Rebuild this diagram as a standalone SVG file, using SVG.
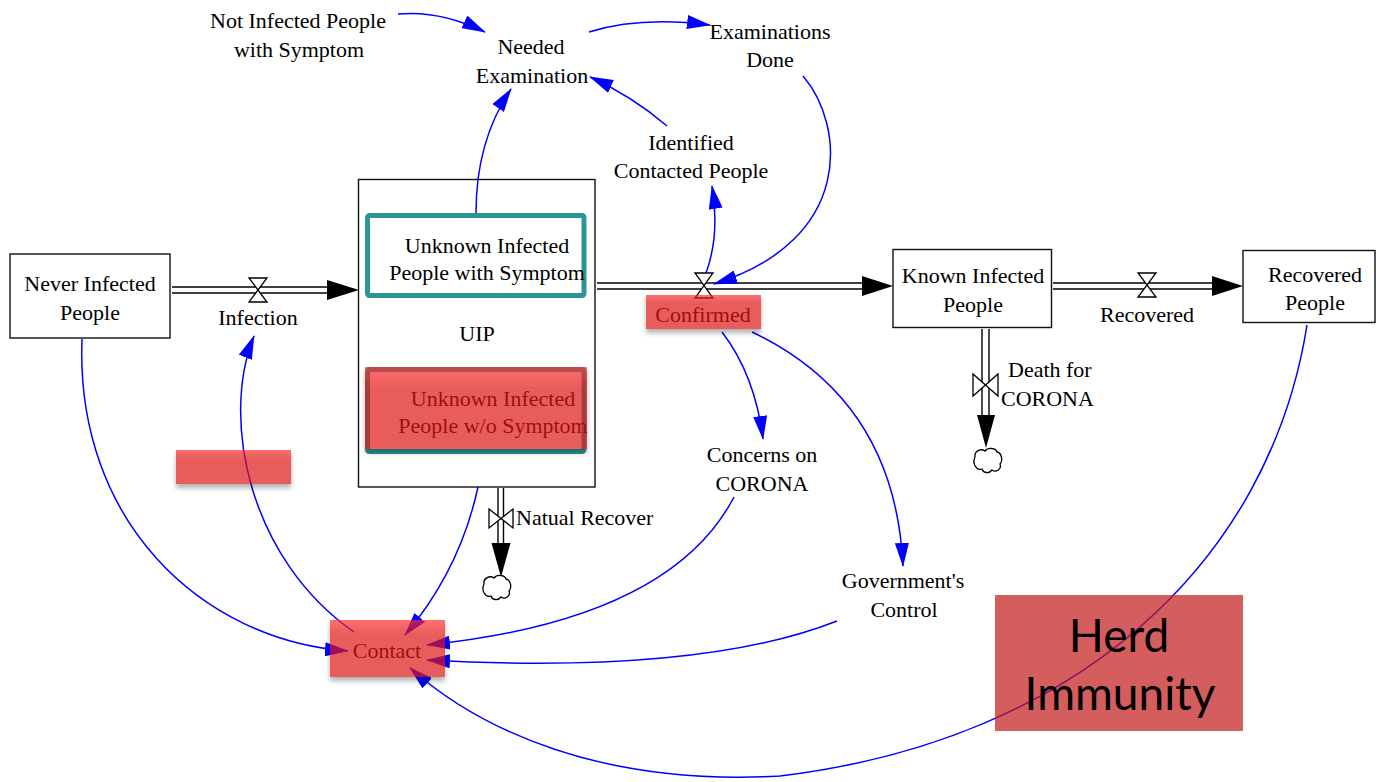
<svg xmlns="http://www.w3.org/2000/svg" width="1376" height="782" viewBox="0 0 1376 782">
<defs>
<style>
.t{font-family:'Liberation Serif','DejaVu Serif',serif;font-size:22px;fill:#000;text-anchor:middle}
.st{fill:#fff;stroke:#111;stroke-width:1.4}
.pipe{stroke:#000;stroke-width:1.4;fill:none}
.valve{fill:#fff;stroke:#000;stroke-width:1.3}
.cn{fill:none;stroke:#0000ff;stroke-width:1.5;marker-end:url(#ab)}
.cloud{fill:#fff;stroke:#000;stroke-width:1.3}
.teal{fill:none;stroke:#2b9692;stroke-width:5}
.ov{fill:url(#rg);filter:url(#sh)}
</style>
<marker id="ab" markerUnits="userSpaceOnUse" markerWidth="24" markerHeight="14" viewBox="0 0 24 14" refX="23" refY="7" orient="auto">
<path d="M0,0 L24,7 L0,14 Z" fill="#0000ff"/>
</marker>
<linearGradient id="rg" x1="0" y1="0" x2="0" y2="1">
<stop offset="0" stop-color="#ff2c2c" stop-opacity="0.68"/>
<stop offset="0.25" stop-color="#de1616" stop-opacity="0.7"/>
<stop offset="1" stop-color="#de1616" stop-opacity="0.7"/>
</linearGradient>
<filter id="sh" x="-10%" y="-20%" width="120%" height="170%">
<feComponentTransfer in="SourceAlpha" result="a"><feFuncA type="linear" slope="10"/></feComponentTransfer>
<feGaussianBlur in="a" stdDeviation="2.5" result="b"/>
<feOffset in="b" dy="4" result="o"/>
<feComposite in="o" in2="a" operator="out" result="s"/>
<feColorMatrix in="s" type="matrix" values="0 0 0 0 0  0 0 0 0 0  0 0 0 0 0  0 0 0 0.3 0" result="s2"/>
<feMerge><feMergeNode in="s2"/><feMergeNode in="SourceGraphic"/></feMerge>
</filter>
<path id="cloud" d="M-13,-3 C-14,-9 -7,-12 -3,-9 C0,-13 8,-12 9,-8 C14,-7 15,1 12,4 C14,9 8,13 4,10 C1,14 -5,13 -6,9 C-12,11 -16,3 -13,-3 Z"/>
</defs>
<rect width="1376" height="782" fill="#fff"/>

<g font-family="'Liberation Serif', serif">
<!-- Stocks -->
<g id="never-infected">
<rect class="st" x="10" y="254" width="160" height="84"/>
<text class="t" x="90" y="291">Never Infected</text>
<text class="t" x="90" y="320">People</text>
</g>
<g id="uip">
<rect class="st" x="358.5" y="179.5" width="236.5" height="307.5"/>
<text class="t" x="477" y="341">UIP</text>
</g>
<g id="uip-symptom">
<rect class="teal" x="367.5" y="215.5" width="216.5" height="80" rx="2"/>
<text class="t" x="487" y="253">Unknown Infected</text>
<text class="t" x="487" y="280">People with Symptom</text>
</g>
<g id="uip-no-symptom">
<rect class="teal" x="367.5" y="369.5" width="216.5" height="82" rx="2"/>
<text class="t" x="493" y="406">Unknown Infected</text>
<text class="t" x="493" y="433">People w/o Symptom</text>
</g>
<g id="known-infected">
<rect class="st" x="893" y="249.5" width="158.5" height="78"/>
<text class="t" x="973" y="283">Known Infected</text>
<text class="t" x="973" y="312">People</text>
</g>
<g id="recovered-people">
<rect class="st" x="1243" y="250.5" width="132" height="72"/>
<text class="t" x="1315" y="282">Recovered</text>
<text class="t" x="1315" y="310">People</text>
</g>

<!-- Flows -->
<g id="flow-infection">
<line class="pipe" x1="172" y1="287" x2="328" y2="287"/>
<line class="pipe" x1="172" y1="293" x2="328" y2="293"/>
<path d="M327,280 L359,290 L327,300 Z" fill="#000"/>
<path class="valve" d="M249,278 L267,278 L249,302 L267,302 Z"/>
<text class="t" x="258" y="325">Infection</text>
</g>
<g id="flow-confirmed">
<line class="pipe" x1="597" y1="283" x2="863" y2="283"/>
<line class="pipe" x1="597" y1="289" x2="863" y2="289"/>
<path d="M862,276 L893,286 L862,296 Z" fill="#000"/>
<path class="valve" d="M695,273 L713,273 L695,298 L713,298 Z"/>
<text class="t" x="703" y="322">Confirmed</text>
</g>
<g id="flow-recovered">
<line class="pipe" x1="1053" y1="283" x2="1213" y2="283"/>
<line class="pipe" x1="1053" y1="289" x2="1213" y2="289"/>
<path d="M1212,276 L1243,286 L1212,296 Z" fill="#000"/>
<path class="valve" d="M1138,273 L1156,273 L1138,297 L1156,297 Z"/>
<text class="t" x="1147" y="322">Recovered</text>
</g>
<g id="flow-death">
<line class="pipe" x1="982" y1="329" x2="982" y2="416"/>
<line class="pipe" x1="989" y1="329" x2="989" y2="416"/>
<path d="M977,415 L995,415 L986,448 Z" fill="#000"/>
<path class="valve" d="M973,374 L973,396 L998,374 L998,396 Z"/>
<text class="t" x="1008" y="377" style="text-anchor:start">Death for</text>
<text class="t" x="1001" y="406" style="text-anchor:start">CORONA</text>
<use href="#cloud" class="cloud" x="988" y="460"/>
</g>
<g id="flow-natual-recover">
<line class="pipe" x1="498" y1="488" x2="498" y2="544"/>
<line class="pipe" x1="503.5" y1="488" x2="503.5" y2="544"/>
<path d="M491.5,543 L510.5,543 L501,577 Z" fill="#000"/>
<path class="valve" d="M489,509 L489,528 L513,509 L513,528 Z"/>
<text class="t" x="516" y="525" style="text-anchor:start">Natual Recover</text>
<use href="#cloud" class="cloud" x="497" y="587"/>
</g>

<!-- Auxiliaries -->
<g id="not-infected-symptom">
<text class="t" x="298" y="28">Not Infected People</text>
<text class="t" x="299" y="57">with Symptom</text>
</g>
<g id="needed-examination">
<text class="t" x="531" y="54">Needed</text>
<text class="t" x="532" y="83">Examination</text>
</g>
<g id="examinations-done">
<text class="t" x="770" y="39">Examinations</text>
<text class="t" x="770" y="67">Done</text>
</g>
<g id="identified-contacted">
<text class="t" x="691" y="150">Identified</text>
<text class="t" x="691" y="178">Contacted People</text>
</g>
<g id="concerns">
<text class="t" x="762" y="462">Concerns on</text>
<text class="t" x="762" y="491">CORONA</text>
</g>
<g id="government-control">
<text class="t" x="903" y="588">Government's</text>
<text class="t" x="904" y="617">Control</text>
</g>
<g id="contact">
<text class="t" x="387" y="658">Contact</text>
</g>
</g>

<!-- Connectors -->
<g id="connectors">
<path class="cn" d="M398,14 Q440,10 485,32"/>
<path class="cn" d="M589,32 Q640,16 710,25"/>
<path class="cn" d="M476,213 C476,160 490,120 511,89"/>
<path class="cn" d="M667,126 Q632,96 590,77"/>
<path class="cn" d="M706,273 Q720,235 712,186"/>
<path class="cn" d="M803,76 C845,125 855,240 714,284"/>
<path class="cn" d="M722,332 Q755,375 763,439"/>
<path class="cn" d="M752,332 Q895,400 903,566"/>
<path class="cn" d="M734,497 Q670,620 427,645"/>
<path class="cn" d="M837,621 Q700,675 427,660"/>
<path class="cn" d="M1307,325 C1270,560 1080,740 780,776 C600,786 480,730 410,668"/>
<path class="cn" d="M82,339 C75,520 200,640 348,651"/>
<path class="cn" d="M354,632 C250,560 220,420 254,336"/>
<path class="cn" d="M478,487 Q460,570 405,635"/>
</g>

<!-- Highlight overlays -->
<g id="highlights">
<rect class="ov" x="365" y="367" width="222" height="82"/>
<rect class="ov" x="646" y="295" width="115" height="34"/>
<rect class="ov" x="176" y="450" width="115" height="34"/>
<rect class="ov" x="330" y="620" width="115" height="57"/>
</g>
<g id="herd-immunity">
<rect x="995" y="595" width="248" height="136" fill="#c41e1e" fill-opacity="0.72"/>
<text x="1119" y="652" style="font-family:Lato,'Open Sans',sans-serif;font-size:46px;text-anchor:middle;fill:#000">Herd</text>
<text x="1120" y="710" style="font-family:Lato,'Open Sans',sans-serif;font-size:46px;text-anchor:middle;fill:#000">Immunity</text>
</g>
</svg>
